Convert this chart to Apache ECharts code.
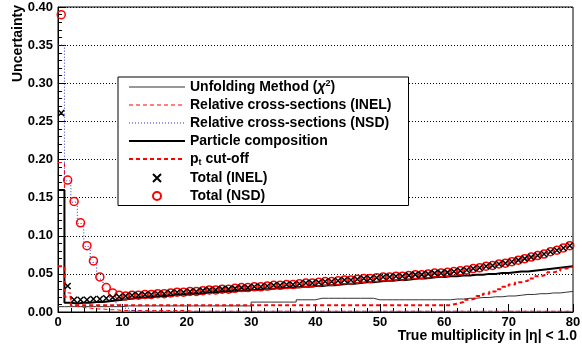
<!DOCTYPE html>
<html>
<head>
<meta charset="utf-8">
<script src="https://cdn.jsdelivr.net/npm/echarts@6/dist/echarts.min.js"></script>
<style>
  html, body { margin: 0; padding: 0; background: #fff; }
  #chart { width: 582px; height: 347px; }
</style>
</head>
<body>
<div id="chart"></div>
<script>
// one value per multiplicity bin [i, i+1), i = 0..79
const unfolding = [
  0.007, 0.007, 0.007, 0.007, 0.007, 0.007, 0.007, 0.007, 0.007, 0.007,
  0.008, 0.008, 0.008, 0.008, 0.008, 0.008, 0.008, 0.008, 0.008, 0.008,
  0.008, 0.008, 0.008, 0.008, 0.008, 0.008, 0.008, 0.008, 0.008, 0.008,
  0.013, 0.013, 0.013, 0.013, 0.013, 0.013, 0.013, 0.016, 0.016, 0.016,
  0.018, 0.018, 0.018, 0.018, 0.018, 0.018, 0.018, 0.018, 0.018, 0.016,
  0.016, 0.016, 0.016, 0.016, 0.016, 0.016, 0.016, 0.016, 0.016, 0.016,
  0.016, 0.017, 0.017, 0.018, 0.018, 0.019, 0.019, 0.020, 0.020, 0.021,
  0.021, 0.022, 0.023, 0.023, 0.024, 0.024, 0.025, 0.025, 0.026, 0.027
];
const crossInel = [
  0.196, 0.025, 0.008, 0.006, 0.005, 0.004, 0.004, 0.003, 0.003, 0.002,
  0.002, 0.002, 0.002, 0.002, 0.002, 0.002, 0.002, 0.002, 0.002, 0.002,
  0.001, 0.001, 0.001, 0.001, 0.001, 0.001, 0.001, 0.001, 0.001, 0.001,
  0.001, 0.001, 0.001, 0.001, 0.001, 0.001, 0.001, 0.001, 0.001, 0.001,
  0.001, 0.001, 0.001, 0.001, 0.001, 0.001, 0.001, 0.001, 0.001, 0.001,
  0.001, 0.001, 0.001, 0.001, 0.001, 0.001, 0.001, 0.001, 0.001, 0.001,
  0.001, 0.001, 0.001, 0.001, 0.001, 0.001, 0.001, 0.001, 0.001, 0.001,
  0.001, 0.001, 0.001, 0.001, 0.001, 0.001, 0.001, 0.001, 0.001, 0.001
];
const crossNsd = [
  0.350, 0.172, 0.144, 0.116, 0.086, 0.065, 0.043, 0.027, 0.017, 0.010,
  0.005, 0.002, 0.001, 0.001, 0.001, 0.001, 0.001, 0.001, 0.001, 0.001,
  0.001, 0.001, 0.001, 0.001, 0.001, 0.001, 0.001, 0.001, 0.001, 0.001,
  0.001, 0.001, 0.001, 0.001, 0.001, 0.001, 0.001, 0.001, 0.001, 0.001,
  0.001, 0.001, 0.001, 0.001, 0.001, 0.001, 0.001, 0.001, 0.001, 0.001,
  0.001, 0.001, 0.001, 0.001, 0.001, 0.001, 0.001, 0.001, 0.001, 0.001,
  0.001, 0.001, 0.001, 0.001, 0.001, 0.001, 0.001, 0.001, 0.001, 0.001,
  0.001, 0.001, 0.001, 0.001, 0.001, 0.001, 0.001, 0.001, 0.001, 0.001
];
const particleComp = [
  0.160, 0.012, 0.011, 0.012, 0.012, 0.013, 0.013, 0.014, 0.015, 0.016,
  0.017, 0.018, 0.019, 0.019, 0.020, 0.021, 0.021, 0.022, 0.023, 0.023,
  0.024, 0.024, 0.025, 0.026, 0.026, 0.027, 0.027, 0.028, 0.028, 0.029,
  0.029, 0.030, 0.030, 0.031, 0.031, 0.032, 0.032, 0.033, 0.033, 0.034,
  0.034, 0.035, 0.035, 0.036, 0.037, 0.037, 0.038, 0.039, 0.039, 0.040,
  0.041, 0.041, 0.042, 0.042, 0.043, 0.044, 0.044, 0.045, 0.046, 0.046,
  0.047, 0.047, 0.048, 0.048, 0.049, 0.049, 0.050, 0.050, 0.051, 0.051,
  0.052, 0.053, 0.053, 0.054, 0.055, 0.056, 0.057, 0.058, 0.059, 0.060
];
const ptCutoff = [
  0.060, 0.020, 0.009, 0.009, 0.009, 0.009, 0.009, 0.009, 0.009, 0.009,
  0.009, 0.009, 0.009, 0.009, 0.009, 0.009, 0.009, 0.009, 0.009, 0.009,
  0.009, 0.009, 0.009, 0.009, 0.009, 0.009, 0.009, 0.009, 0.009, 0.009,
  0.009, 0.009, 0.009, 0.009, 0.009, 0.009, 0.009, 0.009, 0.009, 0.009,
  0.009, 0.009, 0.009, 0.009, 0.009, 0.009, 0.009, 0.009, 0.009, 0.009,
  0.009, 0.009, 0.009, 0.009, 0.009, 0.009, 0.009, 0.009, 0.009, 0.009,
  0.009, 0.011, 0.013, 0.016, 0.018, 0.021, 0.024, 0.027, 0.030, 0.033,
  0.036, 0.039, 0.041, 0.044, 0.047, 0.049, 0.052, 0.054, 0.057, 0.059
];
const totalInel = [
  0.261, 0.034, 0.016, 0.016, 0.016, 0.017, 0.017, 0.018, 0.019, 0.020,
  0.021, 0.022, 0.022, 0.023, 0.023, 0.024, 0.024, 0.025, 0.026, 0.026,
  0.027, 0.027, 0.028, 0.029, 0.029, 0.030, 0.030, 0.031, 0.032, 0.032,
  0.033, 0.033, 0.034, 0.035, 0.035, 0.036, 0.036, 0.037, 0.038, 0.038,
  0.039, 0.040, 0.040, 0.041, 0.042, 0.042, 0.043, 0.044, 0.044, 0.045,
  0.046, 0.046, 0.047, 0.047, 0.048, 0.049, 0.049, 0.050, 0.051, 0.051,
  0.052, 0.053, 0.054, 0.055, 0.057, 0.058, 0.060, 0.061, 0.063, 0.064,
  0.066, 0.068, 0.070, 0.072, 0.074, 0.076, 0.079, 0.081, 0.084, 0.087
];
const totalNsd = [
  0.390, 0.173, 0.145, 0.117, 0.087, 0.067, 0.046, 0.032, 0.025, 0.022,
  0.021, 0.022, 0.022, 0.023, 0.023, 0.024, 0.024, 0.025, 0.026, 0.026,
  0.027, 0.027, 0.028, 0.029, 0.029, 0.030, 0.030, 0.031, 0.032, 0.032,
  0.033, 0.033, 0.034, 0.035, 0.035, 0.036, 0.036, 0.037, 0.038, 0.038,
  0.039, 0.040, 0.040, 0.041, 0.042, 0.042, 0.043, 0.044, 0.044, 0.045,
  0.046, 0.046, 0.047, 0.047, 0.048, 0.049, 0.049, 0.050, 0.051, 0.051,
  0.052, 0.053, 0.054, 0.055, 0.057, 0.058, 0.060, 0.061, 0.063, 0.064,
  0.066, 0.068, 0.070, 0.072, 0.074, 0.076, 0.079, 0.081, 0.084, 0.087
];

const seriesNames = [
  'Unfolding Method (χ2)',
  'Relative cross-sections (INEL)',
  'Relative cross-sections (NSD)',
  'Particle composition',
  'pt cut-off',
  'Total (INEL)',
  'Total (NSD)'
];
const legendText = {
  'Unfolding Method (χ2)': 'Unfolding Method ({it|χ}{sup|2})',
  'pt cut-off': 'p{sub|t} cut-off'
};

const FONT = '"Liberation Sans", Arial, sans-serif';
const RED = '#ff0000';

// histogram outline: flat top across each bin
const histLine = (vals) => {
  const pts = [];
  vals.forEach((v, i) => { pts.push([i, v], [i + 1, v]); });
  return pts;
};
const binCentres = (vals) => vals.map((v, i) => [i + 0.5, v]);

const lineSeries = (name, vals, color, width, type) => ({
  name,
  type: 'line',
  data: histLine(vals),
  symbol: 'none',
  animation: false,
  z: 2,
  lineStyle: { color, width, type },
  itemStyle: { color }
});

// legend: line samples only (no marker dot), same widths as in the plot
const legendWidths = [1, 1, 1, 2, 2];
const legendData = seriesNames.map((name, i) =>
  i < 5
    ? { name, itemStyle: { color: 'rgba(0,0,0,0)', borderWidth: 0, opacity: 0 }, lineStyle: { width: legendWidths[i] } }
    : { name }
);

const chart = echarts.init(document.getElementById('chart'));

chart.setOption({
  animation: false,
  grid: {
    left: 58, right: 9, top: 7, bottom: 35,
    show: true, borderColor: '#000', borderWidth: 1,
    containLabel: false, outerBoundsMode: 'none'
  },
  textStyle: { fontFamily: FONT },
  legend: {
    orient: 'vertical',
    left: 118,
    top: 77,
    data: legendData,
    backgroundColor: '#fff',
    borderColor: '#000',
    borderWidth: 1,
    borderRadius: 0,
    padding: [2, 17, 2, 10],
    itemWidth: 56,
    itemHeight: 8,
    itemGap: 3,
    selectedMode: false,
    formatter: (name) => legendText[name] || name,
    textStyle: {
      fontFamily: FONT, fontSize: 14, fontWeight: 'bold', color: '#000', lineHeight: 15,
      rich: {
        it: { fontFamily: FONT, fontSize: 14, fontStyle: 'italic', color: '#000' },
        sup: { fontFamily: FONT, fontSize: 9, fontWeight: 'bold', color: '#000', padding: [0, 0, 7, 0] },
        sub: { fontFamily: FONT, fontSize: 9, fontWeight: 'bold', color: '#000', padding: [8, 0, 0, 0] }
      }
    }
  },
  xAxis: {
    type: 'value',
    min: 0, max: 80, interval: 10,
    axisLine: { onZero: false, lineStyle: { color: '#000', width: 1 } },
    axisTick: { inside: true, length: 8, lineStyle: { color: '#000' } },
    minorTick: { show: true, splitNumber: 5, length: 4, lineStyle: { color: '#000' } },
    axisLabel: { fontFamily: FONT, fontSize: 13, fontWeight: 'bold', color: '#000', margin: 4 },
    splitLine: { show: false }
  },
  yAxis: {
    type: 'value',
    min: 0, max: 0.4, interval: 0.05,
    axisLine: { show: true, onZero: false, lineStyle: { color: '#000', width: 1 } },
    axisTick: { show: true, inside: true, length: 8, lineStyle: { color: '#000' } },
    minorTick: { show: true, splitNumber: 5, length: 4, lineStyle: { color: '#000' } },
    axisLabel: {
      fontFamily: FONT, fontSize: 13, fontWeight: 'bold', color: '#000', margin: 5,
      formatter: (v) => v.toFixed(2)
    },
    splitLine: { show: true, lineStyle: { color: '#000', width: 1, type: [1, 2] } }
  },
  graphic: [
    {
      type: 'text',
      x: 11, y: 5,
      rotation: Math.PI / 2,
      style: {
        text: 'Uncertainty',
        font: 'bold 14px "Liberation Sans", Arial, sans-serif',
        fill: '#000',
        align: 'right',
        verticalAlign: 'top'
      }
    },
    {
      type: 'text',
      x: 577, y: 336,
      style: {
        text: 'True multiplicity in |η| < 1.0',
        font: 'bold 14px "Liberation Sans", Arial, sans-serif',
        fill: '#000',
        align: 'right',
        verticalAlign: 'middle'
      }
    }
  ],
  series: [
    lineSeries(seriesNames[0], unfolding, '#333', 1, 'solid'),
    lineSeries(seriesNames[1], crossInel, RED, 1, [4, 3]),
    lineSeries(seriesNames[2], crossNsd, '#3030d0', 1, [1, 2]),
    lineSeries(seriesNames[3], particleComp, '#000', 2, 'solid'),
    lineSeries(seriesNames[4], ptCutoff, RED, 2, [4, 3]),
    {
      name: seriesNames[6],
      type: 'scatter',
      data: binCentres(totalNsd),
      symbol: 'circle',
      symbolSize: 8,
      z: 3,
      itemStyle: { color: 'transparent', borderColor: RED, borderWidth: 1.5, opacity: 1 }
    },
    {
      name: seriesNames[5],
      type: 'scatter',
      data: binCentres(totalInel),
      symbol: 'path://M0 0L10 10M10 0L0 10',
      symbolSize: 6,
      z: 4,
      itemStyle: { color: 'transparent', borderColor: '#000', borderWidth: 1.5, opacity: 1 }
    }
  ]
});

window.addEventListener('resize', chart.resize);
</script>
</body>
</html>
